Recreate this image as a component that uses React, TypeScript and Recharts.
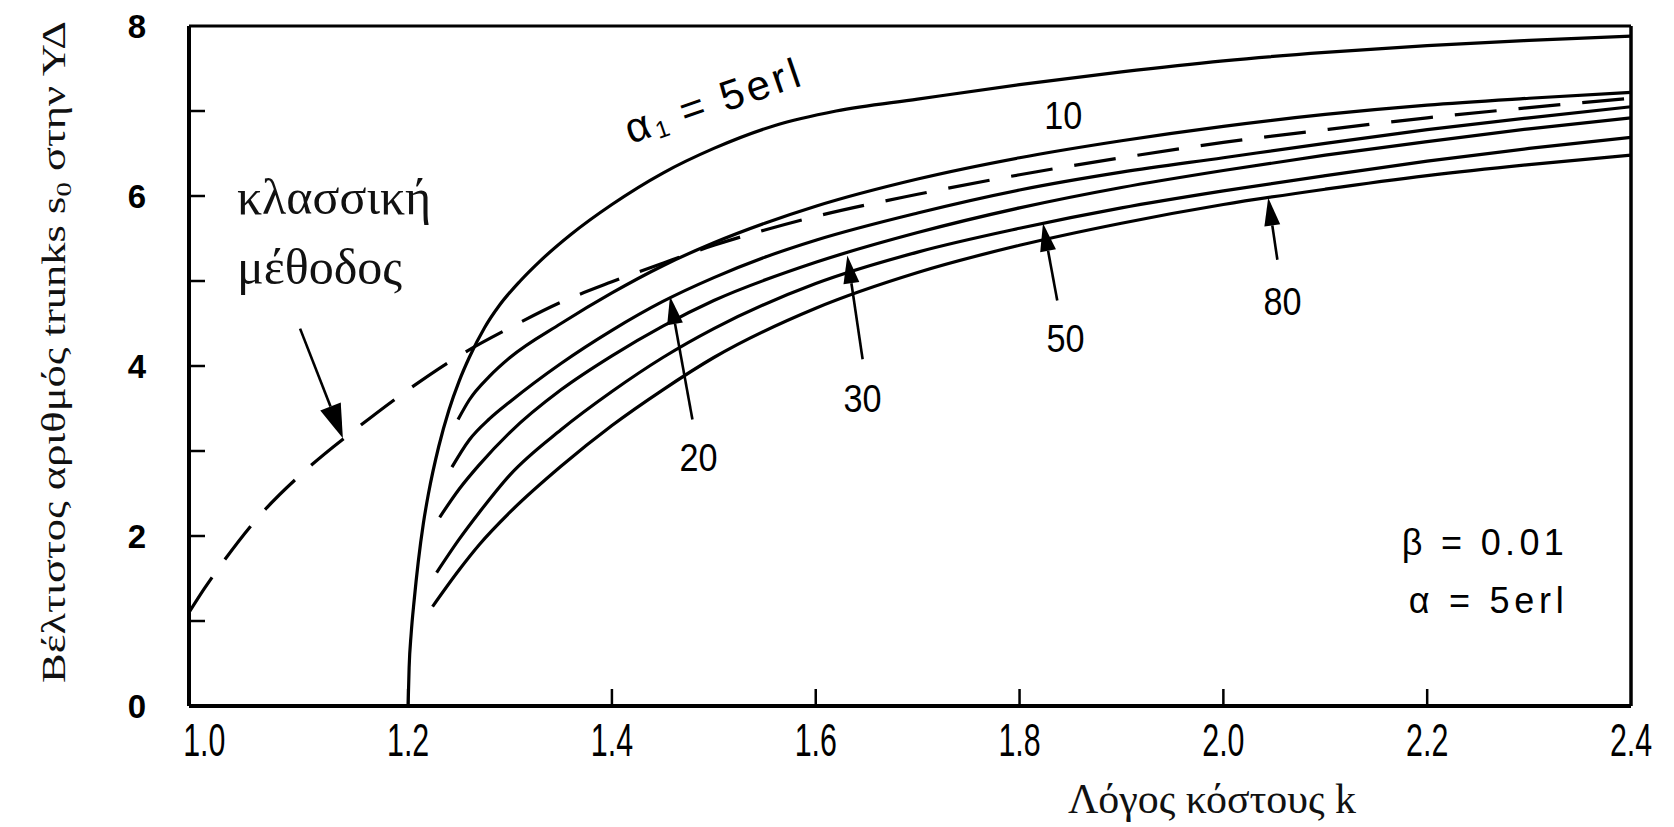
import React from 'react';
import { LineChart, Line, XAxis, YAxis, ReferenceLine, ReferenceDot } from 'recharts';

const SANS = '"Liberation Sans", Arial, Helvetica, sans-serif';
const SERIF = '"Liberation Serif", "Times New Roman", serif';

// ---- axis ticks ----
const kTicks = [1.0, 1.2, 1.4, 1.6, 1.8, 2.0, 2.2, 2.4];
const sTicks = [0, 1, 2, 3, 4, 5, 6, 7, 8];
const sTickLabels = [0, 2, 4, 6, 8];

// ---- curve a1 = 5 erl ----
const kA1 = [1.2, 1.201, 1.203, 1.206, 1.21, 1.215, 1.22, 1.23, 1.24, 1.25, 1.26, 1.275, 1.29, 1.31, 1.33, 1.36, 1.4, 1.45, 1.5, 1.56, 1.62, 1.7, 1.8, 1.9, 2.0, 2.1, 2.2, 2.3, 2.4];
const sA1 = [0, 0.45, 0.85, 1.25, 1.7, 2.15, 2.5, 3.05, 3.48, 3.82, 4.1, 4.45, 4.72, 5.0, 5.24, 5.55, 5.9, 6.27, 6.56, 6.83, 7.0, 7.14, 7.31, 7.46, 7.59, 7.69, 7.77, 7.83, 7.88];

// ---- classical method (dashed) ----
const kCls = [0.985, 1.0, 1.02, 1.05, 1.1, 1.15, 1.2, 1.25, 1.3, 1.35, 1.4, 1.45, 1.5, 1.55, 1.6, 1.7, 1.8, 1.9, 2.0, 2.1, 2.2, 2.3, 2.4];
const sCls = [1.1, 1.38, 1.72, 2.18, 2.78, 3.27, 3.72, 4.12, 4.45, 4.75, 4.99, 5.21, 5.42, 5.6, 5.76, 6.02, 6.25, 6.45, 6.63, 6.78, 6.92, 7.04, 7.15];

// ---- curve 10 ----
const k10 = [1.249, 1.26, 1.28, 1.3, 1.35, 1.4, 1.45, 1.5, 1.55, 1.6, 1.7, 1.8, 1.9, 2.0, 2.1, 2.2, 2.3, 2.4];
const s10 = [3.37, 3.6, 3.88, 4.1, 4.5, 4.86, 5.18, 5.45, 5.68, 5.88, 6.2, 6.45, 6.65, 6.82, 6.96, 7.07, 7.15, 7.22];

// ---- curve 20 ----
const k20 = [1.243, 1.26, 1.28, 1.3, 1.35, 1.4, 1.45, 1.5, 1.55, 1.6, 1.7, 1.8, 1.9, 2.0, 2.1, 2.2, 2.3, 2.4];
const s20 = [2.81, 3.13, 3.38, 3.58, 4.03, 4.42, 4.76, 5.04, 5.28, 5.48, 5.8, 6.07, 6.28, 6.45, 6.62, 6.78, 6.92, 7.05];

// ---- curve 30 ----
const k30 = [1.231, 1.25, 1.27, 1.3, 1.35, 1.4, 1.45, 1.5, 1.6, 1.7, 1.8, 1.9, 2.0, 2.1, 2.2, 2.3, 2.4];
const s30 = [2.22, 2.55, 2.84, 3.22, 3.72, 4.12, 4.47, 4.77, 5.22, 5.57, 5.86, 6.1, 6.3, 6.48, 6.64, 6.79, 6.92];

// ---- curve 50 ----
const k50 = [1.228, 1.25, 1.27, 1.3, 1.35, 1.4, 1.45, 1.5, 1.6, 1.7, 1.8, 1.9, 2.0, 2.1, 2.2, 2.3, 2.4];
const s50 = [1.57, 1.96, 2.28, 2.72, 3.25, 3.7, 4.1, 4.44, 4.97, 5.34, 5.62, 5.86, 6.06, 6.24, 6.41, 6.56, 6.69];

// ---- curve 80 ----
const k80 = [1.224, 1.25, 1.27, 1.3, 1.35, 1.4, 1.45, 1.5, 1.6, 1.7, 1.8, 1.9, 2.0, 2.1, 2.2, 2.3, 2.4];
const s80 = [1.17, 1.6, 1.9, 2.28, 2.82, 3.3, 3.72, 4.1, 4.68, 5.1, 5.42, 5.68, 5.9, 6.08, 6.24, 6.37, 6.48];

// ---- curve labels ----
const curveLabelText = ['10', '20', '30', '50', '80'];
const curveLabelK = [1.843, 1.485, 1.646, 1.845, 2.058];
const curveLabelS = [6.94, 2.92, 3.61, 4.32, 4.76];

// ---- arrows (tail -> tip) ----
const arrowTailK = [1.094, 1.479, 1.646, 1.837, 2.053];
const arrowTailS = [4.44, 3.37, 4.08, 4.77, 5.25];
const arrowTipK = [1.136, 1.457, 1.631, 1.823, 2.044];
const arrowTipS = [3.15, 4.82, 5.3, 5.68, 5.98];

// ---- other annotation anchors ----
const a1LabelAt = { k: 1.5, s: 7.13 };
const classicLabelAt = { k: 1.032, s1: 5.79, s2: 4.96 };
const paramLabelAt = { k: 2.334, s1: 1.92, s2: 1.24 };

const zip = (ks: number[], ss: number[]) => ks.map((k, i) => ({ k, s: ss[i] }));

const solidCurves = [
  zip(kA1, sA1),
  zip(k10, s10),
  zip(k20, s20),
  zip(k30, s30),
  zip(k50, s50),
  zip(k80, s80),
];
const classicCurve = zip(kCls, sCls);

const INK = '#000';

const XTick = (props: any) => {
  const { x, y, payload } = props;
  const v = payload.value as number;
  const mark = v > 1.05 && v < 2.35;
  return (
    <g>
      {mark && <line x1={x} y1={y} x2={x} y2={y - 17} stroke={INK} strokeWidth={2.5} />}
      <text
        transform={`translate(${x},${y + 34}) scale(0.66,1)`}
        textAnchor="middle"
        dominantBaseline="central"
        fontFamily={SANS}
        fontSize={46}
        fill={INK}
      >
        {v.toFixed(1)}
      </text>
    </g>
  );
};

const YTick = (props: any) => {
  const { x, y, payload } = props;
  const v = payload.value as number;
  return (
    <g>
      {v > 0 && v < 8 && <line x1={x} y1={y} x2={x + 16} y2={y} stroke={INK} strokeWidth={2.5} />}
      {sTickLabels.includes(v) && (
        <text x={x - 52} y={y} textAnchor="middle" dominantBaseline="central" fontFamily={SANS} fontWeight="bold" fontSize={33} fill={INK}>
          {v}
        </text>
      )}
    </g>
  );
};

const YTitle = () => (
  <text
    transform="translate(57,344) rotate(-90)"
    textAnchor="middle"
    fontFamily={SERIF}
    fontSize={34}
    textLength={662}
    lengthAdjust="spacingAndGlyphs"
    fill="#111"
  >
    Βέλτιστος  αριθμός trunks s<tspan fontSize={22} dy={6}>0</tspan>
    <tspan dy={-6}> στην ΥΔ</tspan>
  </text>
);

const XTitle = () => (
  <text x={1204} y={805} textAnchor="middle" fontFamily={SERIF} fontSize={42} textLength={288} lengthAdjust="spacingAndGlyphs" fill="#111">
    Λόγος κόστους k
  </text>
);

const makeArrow = (big: boolean) => (p: any) => {
  const { x1, y1, x2, y2 } = p;
  const dx = x2 - x1;
  const dy = y2 - y1;
  const len = Math.sqrt(dx * dx + dy * dy) || 1;
  const ux = dx / len;
  const uy = dy / len;
  const hl = big ? 34 : 28;
  const hw = big ? 11 : 8;
  const bx = x2 - ux * hl;
  const by = y2 - uy * hl;
  const px = -uy * hw;
  const py = ux * hw;
  return (
    <g>
      <line x1={x1} y1={y1} x2={bx} y2={by} stroke={INK} strokeWidth={2.6} />
      <polygon points={`${x2},${y2} ${bx + px},${by + py} ${bx - px},${by - py}`} fill={INK} />
    </g>
  );
};

export default function App() {
  return (
    <div style={{ width: 1660, height: 815, background: '#fff' }}>
      <LineChart width={1660} height={815} margin={{ top: 18, right: 37, bottom: 117, left: 181 }}>
        <XAxis
          dataKey="k"
          type="number"
          domain={[0.985, 2.4]}
          allowDataOverflow
          ticks={kTicks}
          interval={0}
          mirror
          tickSize={0}
          tickMargin={0}
          tickLine={false}
          axisLine={{ stroke: INK, strokeWidth: 4 }}
          tick={<XTick />}
          label={<XTitle />}
        />
        <YAxis
          type="number"
          domain={[0, 8]}
          allowDataOverflow
          ticks={sTicks}
          interval={0}
          mirror
          tickSize={0}
          tickMargin={0}
          tickLine={false}
          axisLine={{ stroke: INK, strokeWidth: 4 }}
          tick={<YTick />}
          label={<YTitle />}
        />
        <ReferenceLine y={8} stroke={INK} strokeWidth={3} />
        <ReferenceLine x={2.4} stroke={INK} strokeWidth={3.5} />

        <Line
          data={classicCurve}
          dataKey="s"
          type="monotone"
          stroke={INK}
          strokeWidth={3.2}
          strokeDasharray="42 22"
          dot={false}
          activeDot={false}
          isAnimationActive={false}
        />
        {solidCurves.map((d, i) => (
          <Line
            key={i}
            data={d}
            dataKey="s"
            type="monotone"
            stroke={INK}
            strokeWidth={3.2}
            dot={false}
            activeDot={false}
            isAnimationActive={false}
          />
        ))}

        {arrowTailK.map((k, i) => (
          <ReferenceLine
            key={'ar' + i}
            segment={[
              { x: k, y: arrowTailS[i] },
              { x: arrowTipK[i], y: arrowTipS[i] },
            ]}
            ifOverflow="visible"
            stroke={INK}
            shape={makeArrow(i === 0)}
          />
        ))}

        {curveLabelText.map((t, i) => (
          <ReferenceDot
            key={'lb' + i}
            x={curveLabelK[i]}
            y={curveLabelS[i]}
            r={0}
            ifOverflow="visible"
            shape={(p: any) => (
              <text
                transform={`translate(${p.cx},${p.cy}) scale(0.9,1)`}
                textAnchor="middle"
                dominantBaseline="central"
                fontFamily={SANS}
                fontSize={38}
                fill={INK}
              >
                {t}
              </text>
            )}
          />
        ))}

        <ReferenceDot
          x={a1LabelAt.k}
          y={a1LabelAt.s}
          r={0}
          ifOverflow="visible"
          shape={(p: any) => (
            <text
              transform={`translate(${p.cx},${p.cy}) rotate(-19)`}
              textAnchor="middle"
              dominantBaseline="central"
              fontFamily={SANS}
              fontSize={42}
              fill={INK}
            >
              α<tspan fontSize={24} dx={4} dy={10}>1</tspan>
              <tspan dx={16} dy={-10}>=</tspan>
              <tspan dx={18} letterSpacing={4}>5erl</tspan>
            </text>
          )}
        />

        <ReferenceDot
          x={classicLabelAt.k}
          y={classicLabelAt.s1}
          r={0}
          ifOverflow="visible"
          shape={(p: any) => (
            <text x={p.cx} y={p.cy} fontFamily={SERIF} fontSize={50} fill="#111">
              κλασσική
            </text>
          )}
        />
        <ReferenceDot
          x={classicLabelAt.k}
          y={classicLabelAt.s2}
          r={0}
          ifOverflow="visible"
          shape={(p: any) => (
            <text x={p.cx} y={p.cy} fontFamily={SERIF} fontSize={50} fill="#111">
              μέθοδος
            </text>
          )}
        />

        <ReferenceDot
          x={paramLabelAt.k}
          y={paramLabelAt.s1}
          r={0}
          ifOverflow="visible"
          shape={(p: any) => (
            <text
              x={p.cx}
              y={p.cy}
              textAnchor="end"
              dominantBaseline="central"
              fontFamily={SANS}
              fontSize={36}
              textLength={162}
              lengthAdjust="spacing"
              fill={INK}
            >
              β = 0.01
            </text>
          )}
        />
        <ReferenceDot
          x={paramLabelAt.k}
          y={paramLabelAt.s2}
          r={0}
          ifOverflow="visible"
          shape={(p: any) => (
            <text
              x={p.cx}
              y={p.cy}
              textAnchor="end"
              dominantBaseline="central"
              fontFamily={SANS}
              fontSize={36}
              textLength={155}
              lengthAdjust="spacing"
              fill={INK}
            >
              α = 5erl
            </text>
          )}
        />
      </LineChart>
    </div>
  );
}
